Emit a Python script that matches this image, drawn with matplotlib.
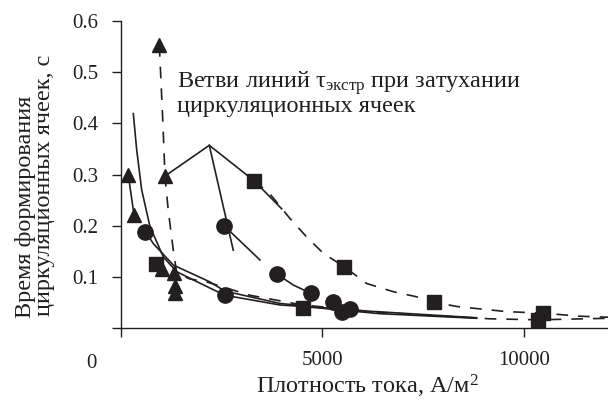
import matplotlib
matplotlib.use("Agg")
import matplotlib.pyplot as plt

plt.rcParams["font.family"] = ["Liberation Serif", "DejaVu Serif"]
plt.rcParams["mathtext.fontset"] = "custom"
plt.rcParams["mathtext.rm"] = "Liberation Serif"
plt.rcParams["mathtext.it"] = "Liberation Serif:italic"

# markers
tri_x = [182, 323, 951, 1092, 1010, 1320, 1340, 1340]
tri_y = [0.299, 0.221, 0.553, 0.297, 0.116, 0.108, 0.082, 0.068]
sq_x = [868, 3300, 4507, 5533, 7766, 10354, 10478]
sq_y = [0.126, 0.288, 0.040, 0.120, 0.051, 0.016, 0.029]
circ_x = [595, 2555, 2580, 3879, 4706, 5268, 5475, 5682]
circ_y = [0.188, 0.200, 0.064, 0.105, 0.068, 0.051, 0.032, 0.037]

# solid curves
solid_a_x = [306, 390, 513, 720, 1050, 1381, 2208, 2580, 3945, 4516, 6425, 8824]
solid_a_y = [0.419, 0.348, 0.270, 0.198, 0.139, 0.110, 0.078, 0.064, 0.045, 0.042, 0.028, 0.019]
solid_b_x = [596, 802, 1298, 2208, 2580, 3945, 5500, 8824]
solid_b_y = [0.190, 0.165, 0.123, 0.090, 0.072, 0.048, 0.036, 0.020]
tri_link_x = [182, 323]
tri_link_y = [0.299, 0.221]

# branch lines
peak_x = [1092, 2191, 3300, 3987]
peak_y = [0.297, 0.357, 0.288, 0.233]
branch1_x = [2191, 2786]
branch1_y = [0.357, 0.152]
branch2_x = [2555, 3449]
branch2_y = [0.200, 0.133]
branch3_x = [3879, 4275, 4706]
branch3_y = [0.105, 0.084, 0.068]

# dashed curves
dash_tri_x = [951, 1040, 1092, 1173, 1298, 1381, 1700, 2126, 3200, 4500, 6500, 9150, 10354, 12100]
dash_tri_y = [0.553, 0.400, 0.297, 0.230, 0.152, 0.108, 0.096, 0.090, 0.064, 0.045, 0.030, 0.018, 0.016, 0.019]
dash_sq_x = [3300, 3697, 4193, 4607, 5020, 5533, 6096, 6756, 7336, 7766, 8330, 9570, 10478, 11390, 12100]
dash_sq_y = [0.288, 0.262, 0.214, 0.178, 0.146, 0.120, 0.087, 0.071, 0.061, 0.051, 0.042, 0.032, 0.029, 0.023, 0.021]

ink = "#231f20"
text_size = 17.5

fig = plt.figure(figsize=(6.08, 4.0), dpi=100)
ax = fig.add_axes([0.199, 0.18, 0.801, 0.7675])

lw = 1.2
dash = (0, (7, 6))
for xs, ys in [(solid_a_x, solid_a_y), (solid_b_x, solid_b_y), (tri_link_x, tri_link_y),
               (peak_x, peak_y), (branch1_x, branch1_y), (branch2_x, branch2_y),
               (branch3_x, branch3_y)]:
    ax.plot(xs, ys, color=ink, linewidth=lw)
for xs, ys in [(dash_tri_x, dash_tri_y), (dash_sq_x, dash_sq_y)]:
    ax.plot(xs, ys, color=ink, linewidth=lw, linestyle=dash)

ax.plot(tri_x, tri_y, linestyle="None", marker="^", markersize=10.5, color=ink, zorder=5)
ax.plot(sq_x, sq_y, linestyle="None", marker="s", markersize=10, color=ink, zorder=5)
ax.plot(circ_x, circ_y, linestyle="None", marker="o", markersize=11, color=ink, zorder=5)

ax.set_xlim(0, 12085)
ax.set_ylim(0, 0.6)
ax.spines["top"].set_visible(False)
ax.spines["right"].set_visible(False)
for s in ("left", "bottom"):
    ax.spines[s].set_linewidth(1.0)
    ax.spines[s].set_color(ink)

ax.set_xticks([0, 5000, 10000])
ax.set_xticklabels(["", "5000", "10000"])
ax.set_yticks([0, 0.1, 0.2, 0.3, 0.4, 0.5, 0.6])
ax.set_yticklabels(["", "0.1", "0.2", "0.3", "0.4", "0.5", "0.6"])
ax.tick_params(direction="out", length=6.5, width=1.0, pad=10, labelsize=15, colors=ink)

fig.text(97 / 608, 1 - 363 / 400, "0", ha="right", va="center", fontsize=15, color=ink)
fig.text(367 / 608, 1 - 393 / 400, "Плотность тока, А/м$^2$", ha="center", va="baseline",
         fontsize=text_size, color=ink)

# y label, two rotated lines
fig.text(31 / 608, 1 - 207 / 400, "Время формирования", rotation=90,
         rotation_mode="anchor", ha="center", va="baseline", fontsize=text_size, color=ink)
fig.text(50 / 608, 1 - 185 / 400, "циркуляционных ячеек, с", rotation=90,
         rotation_mode="anchor", ha="center", va="baseline", fontsize=text_size, color=ink)

fig.text(177 / 608, 1 - 88 / 400, "Ветви линий τ$_{\\mathrm{экстр}}$ при затухании",
         ha="left", va="baseline", fontsize=text_size, color=ink)
fig.text(177 / 608, 1 - 112 / 400, "циркуляционных ячеек",
         ha="left", va="baseline", fontsize=text_size, color=ink)

fig.savefig("out.png", dpi=100)
